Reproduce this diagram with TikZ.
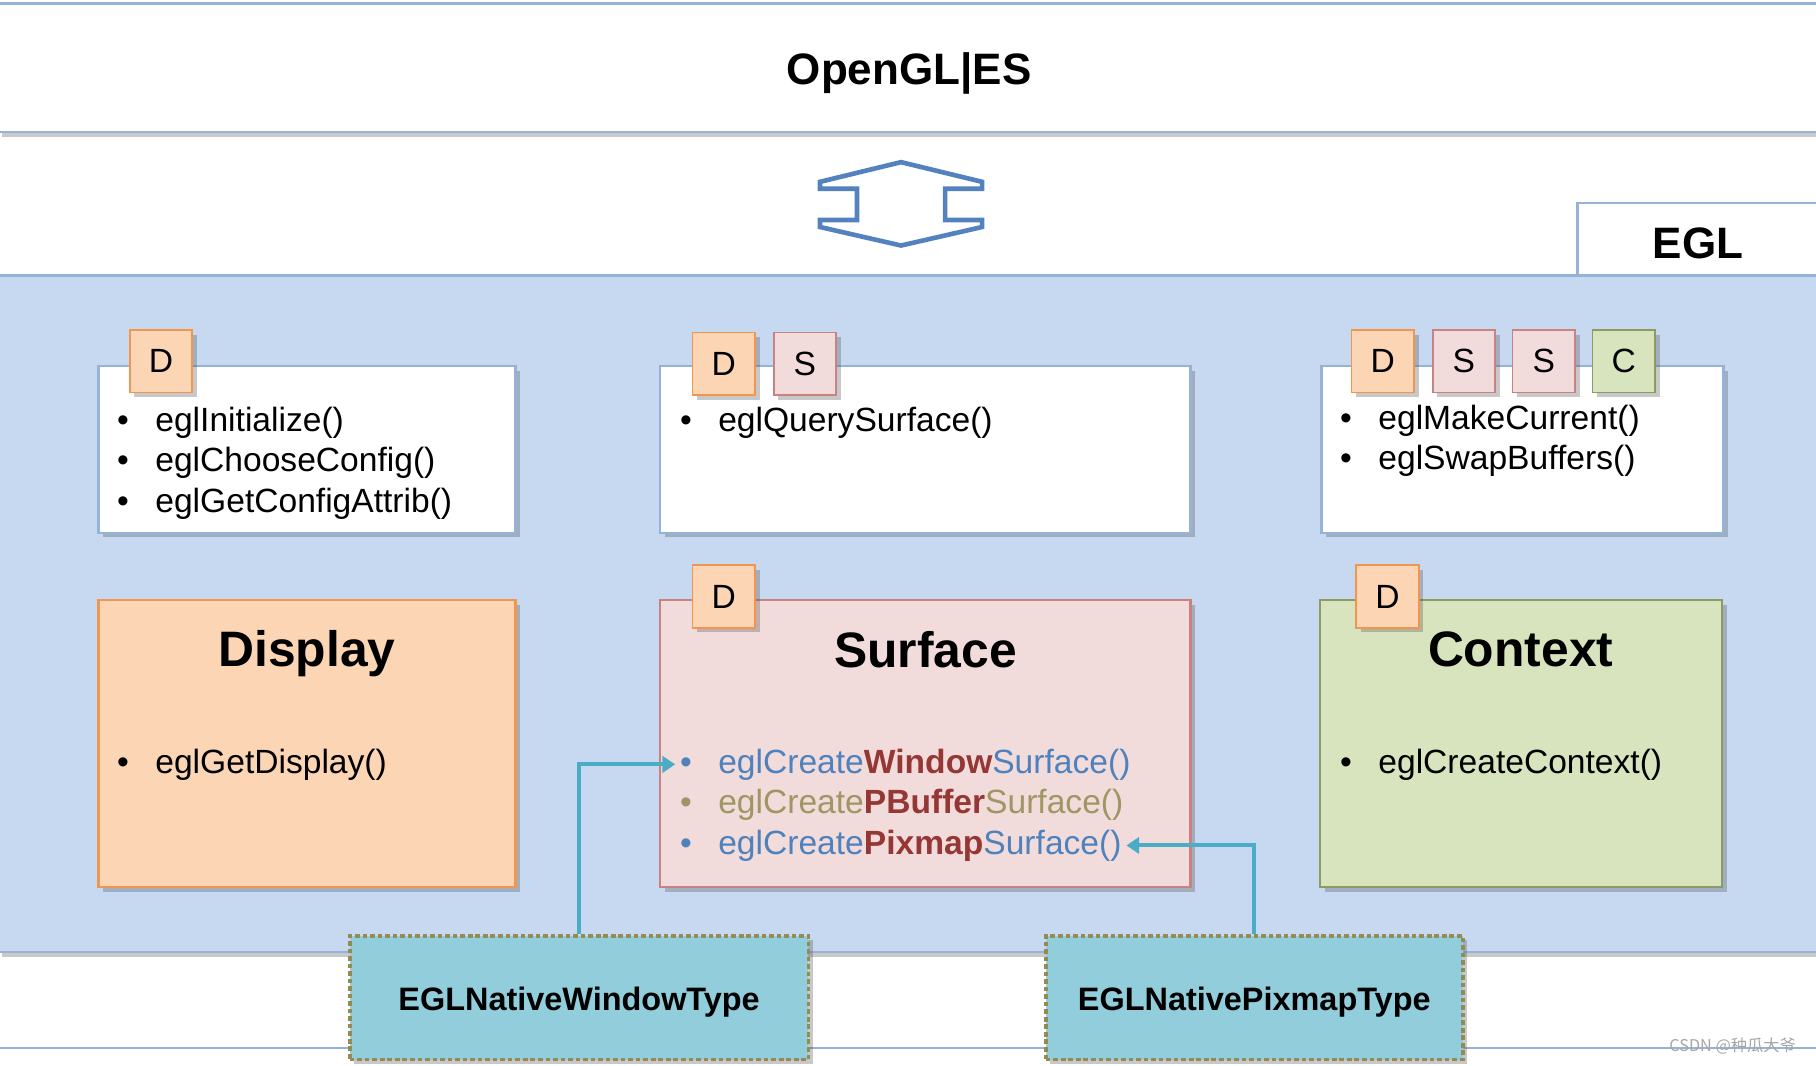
\documentclass[tikz,border=0pt]{standalone}
\usepackage{fontspec}
\setmainfont{Liberation Sans}
\newfontfamily\cjkfont{Noto Sans CJK SC}
\usetikzlibrary{shadows,arrows.meta}
\definecolor{panel}{RGB}{198,217,241}
\definecolor{edgeblue}{RGB}{149,179,215}
\definecolor{arrowblue}{RGB}{84,130,190}
\definecolor{dfill}{RGB}{252,213,180}
\definecolor{dedge}{RGB}{240,150,80}
\definecolor{sfill}{RGB}{242,220,219}
\definecolor{sedge}{RGB}{200,130,130}
\definecolor{cfill}{RGB}{215,228,189}
\definecolor{cedge}{RGB}{140,155,100}
\definecolor{nfill}{RGB}{146,205,220}
\definecolor{nedge}{RGB}{148,138,84}
\definecolor{conn}{RGB}{75,172,198}
\definecolor{fnblue}{RGB}{79,129,189}
\definecolor{fnolive}{RGB}{160,150,100}
\definecolor{fnred}{RGB}{149,55,53}
\newcommand\fsz[2]{\fontsize{#1}{#2}\selectfont}
\newcommand\bul[1]{\makebox[33pt][l]{#1}}
\begin{document}
\begin{tikzpicture}[x=1pt,y=-1pt,
  shadowed/.style={drop shadow={shadow xshift=4pt,shadow yshift=-4pt,opacity=0.3,fill=black!70}},
  bigbox/.style={inner sep=0pt,line width=2pt,shadowed},
  listbox/.style={bigbox,draw=edgeblue,fill=white,minimum height=144pt},
  tab/.style={minimum width=54pt,minimum height=54pt,inner sep=0pt,line width=1.5pt,shadowed,font=\fsz{29pt}{35pt}},
  dtab/.style={tab,fill=dfill,draw=dedge},
  stab/.style={tab,fill=sfill,draw=sedge},
  ctab/.style={tab,fill=cfill,draw=cedge},
  item/.style={anchor=west,inner ysep=0pt,inner xsep=4pt,font=\fsz{29pt}{35pt}},
  title/.style={font=\bfseries\fsz{43pt}{50pt}},
  native/.style={inner sep=0pt,minimum height=107pt,fill=nfill,draw=nedge,line width=3pt,dash pattern=on 4pt off 2.5pt,shadowed},
  nativetext/.style={font=\bfseries\fsz{28pt}{34pt}},
  connector/.style={draw=conn,line width=3.5pt,-{Triangle[width=14pt,length=11pt]}}]
\useasboundingbox (0,0) rectangle (1568,920);
\clip (0,0) rectangle (1568,920);
% top box
\node[bigbox,draw=edgeblue,fill=white,minimum width=1572pt,minimum height=111pt] (gles) at (784,58.5) {};
\node[font=\bfseries\fsz{38pt}{44pt}] (glestxt) at (785,63) {OpenGL|ES};
% double arrow
\draw[draw=arrowblue,line width=4pt,fill=white,line join=miter]
  (778,140) -- (848,157) -- (848,163) -- (816,163) -- (816,190) -- (848,190) -- (848,196)
  -- (778,212) -- (708,196) -- (708,190) -- (740,190) -- (740,163) -- (708,163) -- (708,157) -- cycle;
% bottom box (cut off)
\node[bigbox,draw=edgeblue,fill=white,minimum width=1572pt,minimum height=60pt] (lower) at (784,935) {};
% EGL tab and panel
\node[inner sep=0pt,draw=edgeblue,line width=2pt,fill=white,minimum width=208pt,minimum height=64pt] (egltab) at (1466,207) {};
\node[font=\bfseries\fsz{38pt}{44pt}] (egltxt) at (1466,210) {EGL};
\node[bigbox,draw=edgeblue,fill=panel,minimum width=1572pt,minimum height=584pt] (panelbox) at (784,530) {};
% list boxes
\node[listbox,minimum width=360pt] (b1) at (265,388) {};
\node[listbox,minimum width=458pt] (b2) at (799,388) {};
\node[listbox,minimum width=347pt] (b3) at (1314.5,388) {};
\node[dtab] (t1d) at (139,312) {D};
\node[dtab] (t2d) at (625,314) {D};
\node[stab] (t2s) at (695,314) {S};
\node[dtab] (t3d) at (1194,312) {D};
\node[stab] (t3s1) at (1264,312) {S};
\node[stab] (t3s2) at (1333,312) {S};
\node[ctab] (t3c) at (1402,312) {C};
\node[item] (i11) at (97,365) {\bul{•}eglInitialize()};
\node[item] (i12) at (97,400) {\bul{•}eglChooseConfig()};
\node[item] (i13) at (97,435) {\bul{•}eglGetConfigAttrib()};
\node[item] (i21) at (583,365) {\bul{•}eglQuerySurface()};
\node[item] (i31) at (1153,363) {\bul{•}eglMakeCurrent()};
\node[item] (i32) at (1153,398) {\bul{•}eglSwapBuffers()};
% object boxes
\node[bigbox,draw=dedge,fill=dfill,minimum width=360pt,minimum height=248pt] (disp) at (265,642) {};
\node[bigbox,draw=sedge,fill=sfill,minimum width=458pt,minimum height=248pt] (surf) at (799,642) {};
\node[bigbox,draw=cedge,fill=cfill,minimum width=347pt,minimum height=248pt] (ctx) at (1313.5,642) {};
\node[dtab] (sd) at (625,515) {D};
\node[dtab] (cd) at (1198,515) {D};
\node[title] (disptitle) at (265,564) {Display};
\node[title] (surftitle) at (799,561) {Surface};
\node[title] (ctxtitle) at (1313,561) {Context};
\node[item] (di) at (97,660) {\bul{•}eglGetDisplay()};
\node[item] (ci) at (1153,660) {\bul{•}eglCreateContext()};
\node[item,text=fnblue] (ws1) at (583,660) {\bul{•}eglCreate\textcolor{fnred}{\bfseries Window}Surface()};
\node[item,text=fnolive] (ws2) at (583,695) {\bul{•}eglCreate\textcolor{fnred}{\bfseries PBuffer}Surface()};
\node[item,text=fnblue] (ws3) at (583,730) {\bul{•}eglCreate\textcolor{fnred}{\bfseries Pixmap}Surface()};
% native types
\node[native,minimum width=396pt] (nwin) at (500,861.5) {};
\node[native,minimum width=360pt] (npix) at (1083,861.5) {};
\node[nativetext] (nwintxt) at (500,865) {EGLNativeWindowType};
\node[nativetext] (npixtxt) at (1083,865) {EGLNativePixmapType};
% connectors
\draw[connector] (nwin.north) |- (ws1.west);
\draw[connector] (npix.north) |- (ws3.east);
% watermark
\node[text=gray!70,font=\cjkfont\fsz{14pt}{16pt}] (wm) at (1496,903) {CSDN @种瓜大爷};
\end{tikzpicture}
\end{document}
